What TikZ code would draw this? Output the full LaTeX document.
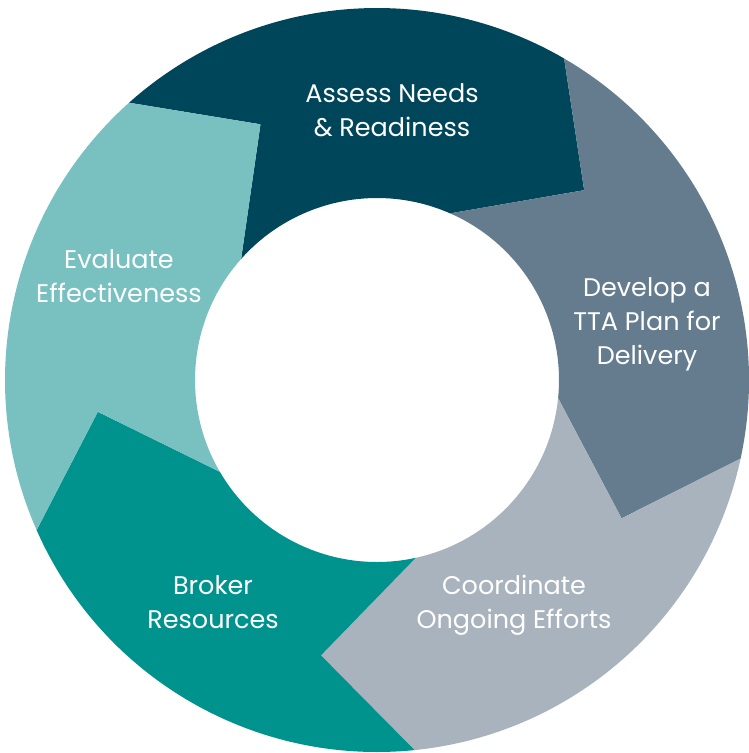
\documentclass[tikz,border=0pt]{standalone}
\usepackage{fontspec}
\setmainfont{Poppins}
\usetikzlibrary{calc}

\definecolor{navy}{HTML}{00465A}
\definecolor{slate}{HTML}{647C8E}
\definecolor{mist}{HTML}{A9B3BE}
\definecolor{teal}{HTML}{00928D}
\definecolor{lightteal}{HTML}{79C1C1}

\begin{document}
\begin{tikzpicture}[x=1pt,y=1pt]

	\tikzstyle{step_label} = [text=white, align=center, inner sep=0pt, font=\fontsize{25.5}{34}\selectfont]

	\useasboundingbox (0,0) rectangle (748,-753);
	\coordinate (c) at (377,-380);

%------------------------------------------------------------
	% ring of five arrows, each one pointing clockwise into the next
	\foreach \j/\col in {0/navy, 1/slate, 2/mist, 3/teal, 4/lightteal} {
		\pgfmathsetmacro\a{59.8-72*\j}
		\fill[\col, shift={(c)}] (\a+72:372) arc[start angle=\a+72, end angle=\a, radius=372]
			-- (\a-17.3:281) -- (\a+6.5:182)
			arc[start angle=\a+6.5, end angle=\a+78.5, radius=182]
			-- (\a+54.7:281) -- cycle;
	}
%------------------------------------------------------------
	\node[step_label] (assess) at (392,-110) {Assess Needs\\ \& Readiness};
	\node[step_label] (develop) at (647,-324) {Develop a\\ TTA Plan for\\ Delivery};
	\node[step_label] (coordinate) at (514,-605) {Coordinate\\ Ongoing Efforts};
	\node[step_label] (broker) at (213,-602) {Broker\\ Resources};
	\node[step_label] (evaluate) at (119,-276) {Evaluate\\ Effectiveness};

\end{tikzpicture}
\end{document}
